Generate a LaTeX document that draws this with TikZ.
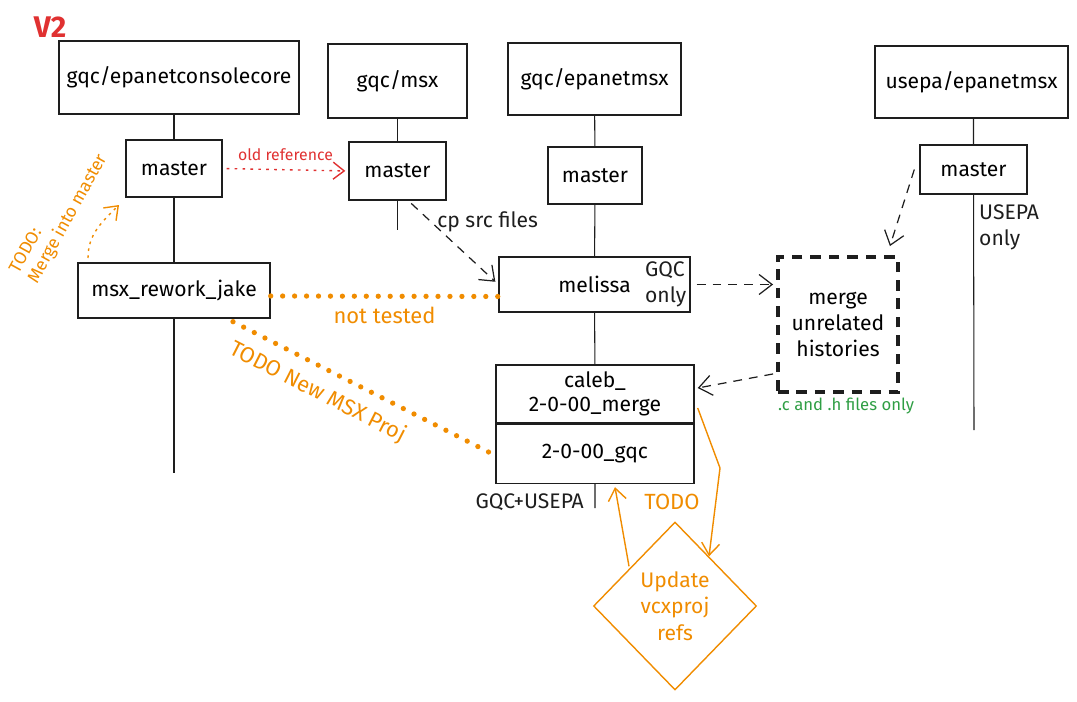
\documentclass[tikz,border=0pt]{standalone}
\usepackage{fontspec}
\setmainfont{Fira Sans}
\usetikzlibrary{arrows.meta,positioning,calc,shapes.geometric}
\definecolor{ink}{RGB}{30,30,30}
\definecolor{todo}{RGB}{240,140,0}
\definecolor{oldref}{RGB}{224,49,49}
\definecolor{grn}{RGB}{47,158,68}
\tikzset{
  repo/.style={draw=ink,line width=0.8pt,font=\fontsize{12}{15}\selectfont,align=center,
    minimum height=14.6mm},
  brch/.style={draw=ink,line width=0.8pt,font=\fontsize{12}{14}\selectfont,align=center,
    inner ysep=1pt,minimum height=11.4mm},
  trunk/.style={draw=ink,line width=0.6pt},
  lbl/.style={font=\fontsize{12}{14.5}\selectfont,align=left,text=ink},
  tlbl/.style={font=\fontsize{12.5}{15}\selectfont,align=left,text=todo},
  dsh/.style={-{Straight Barb[length=2.6mm,width=4mm]},ink,line width=0.7pt,
    dash pattern=on 5pt off 4pt},
  ref/.style={-{Straight Barb[length=2.2mm,width=3.4mm]},oldref,line width=0.8pt,
    dash pattern=on 1.5pt off 3pt},
  dots/.style={todo,line width=3pt,dash pattern=on 0pt off 6.8pt,line cap=round},
  todoarr/.style={-{Straight Barb[length=2.4mm,width=3.6mm]},todo,line width=0.8pt},
}

\begin{document}
\begin{tikzpicture}[x=0.2mm,y=-0.2mm]
\useasboundingbox (0,0) rectangle (1077,701);

\node[font=\fontsize{17}{17}\selectfont\bfseries,text=oldref] (vtwo) at (50,27) {V2};

% ---- repositories ----
\node[repo,minimum width=48mm] (core) at (179,77.5) {gqc/epanetconsolecore};
\node[repo,minimum width=27.8mm,minimum height=14.8mm] (gmsx) at (397.5,81) {gqc/msx};
\node[repo,minimum width=34.6mm,minimum height=14.4mm] (gepa) at (594.5,79) {gqc/epanetmsx};
\node[repo,minimum width=38.6mm,minimum height=14.4mm] (usepa) at (971.5,82) {usepa/epanetmsx};

% ---- branches ----
\node[brch,minimum width=19.2mm] (m1) at (174,168.5) {master};
\node[brch,minimum width=19.4mm,minimum height=11.6mm] (m2) at (397.5,171) {master};
\node[brch,minimum width=18.8mm] (m3) at (595,175.5) {master};
\node[brch,minimum width=21.4mm,minimum height=9.8mm] (m4) at (973.5,169.5) {master};
\node[brch,minimum width=38.4mm,minimum height=11mm] (jake) at (174,290.5) {msx\_rework\_jake};
\node[brch,minimum width=38.2mm,minimum height=11mm] (melissa) at (594.5,284.5) {melissa};
\node[lbl,anchor=east,inner sep=1pt] (gqconly) at ([xshift=-0.5mm]melissa.east) {GQC\\only};
\node[brch,minimum width=39.6mm,minimum height=11.6mm] (caleb) at (595,394) {caleb\_\\2-0-00\_merge};
\node[brch,minimum width=39.6mm,minimum height=11.8mm,below=0pt of caleb] (gqcb) {2-0-00\_gqc};

% ---- merge step ----
\node[draw=ink,line width=2.2pt,dash pattern=on 6pt off 4.5pt,align=center,
  font=\fontsize{12}{14.8}\selectfont,minimum width=24mm,minimum height=27mm]
  (merge) at (838,324.5) {merge\\unrelated\\histories};
\node[font=\fontsize{9.5}{11}\selectfont,text=grn] (chonly) at (846,406) {.c and .h files only};

\node[diamond,draw=todo,line width=0.8pt,text=todo,align=center,inner sep=0pt,
  font=\fontsize{12}{15}\selectfont,minimum width=32.6mm,minimum height=33.6mm]
  (upd) at (675,606) {Update\\vcxproj\\refs};

% ---- trunks ----
\coordinate (c1end) at (174,473);
\coordinate (c2end) at (397.5,230);
\coordinate (c3end) at (595,508);
\coordinate (c4end) at (974,430);
\draw[trunk] (m1 |- core.south) -- (m1) (m1) -- (jake) (jake) -- (c1end);
\draw[trunk] (gmsx) -- (m2) (m2) -- (c2end);
\draw[trunk] (gepa) -- (m3) (m3) -- (melissa) (melissa) -- (caleb) (gqcb) -- (c3end);
\draw[trunk] (m4 |- usepa.south) -- (m4) (m4) -- (c4end);

\node[lbl,anchor=north west] (usepaonly) at (973,199) {USEPA\\only};
\node[lbl,anchor=east] (gqcusepa) at (590,502) {GQC+USEPA};
\node[tlbl] (todonote) at (672,502) {TODO};

% ---- connectors ----
\draw[ref,shorten <=0.8mm,shorten >=0.6mm] (m1.east) -- node[above=0.6mm,
  font=\fontsize{9}{11}\selectfont,text=oldref] {old reference} (m2.west);

\coordinate (mimstart) at (88,258);
\coordinate (mimend) at (119,205);
\draw[todoarr,dash pattern=on 1.5pt off 2.5pt] (mimstart) to[out=90,in=-135] (mimend);
\node[font=\fontsize{10}{12}\selectfont,text=todo,align=left,rotate=61,inner sep=1pt]
  (mimlbl) at (59,214) {TODO:\\Merge into master};

\draw[dsh,shorten <=0.8mm,shorten >=0.8mm] (m2.290) -- node[pos=0.25,anchor=west,lbl] {cp src files} (melissa.west);
\draw[dsh,shorten <=1.2mm,shorten >=0.6mm] (melissa.east) -- (merge.west |- melissa.east);
\draw[dsh] ([xshift=-1mm]m4.west) -- ($(merge.north east)+(-10,-9)$);
\draw[dsh] ($(merge.south west)+(-3,-20)$) -- ($(caleb.east)+(3,-6)$);

\draw[dots] ([yshift=-1.1mm]jake.east) -- node[below=0.4mm,tlbl] {not tested} ([yshift=-2.4mm]melissa.west);
\draw[dots] ($(jake.south)+(59,3)$) -- node[pos=0.37,sloped,below=1mm,tlbl] {TODO New MSX Proj} ([xshift=-0.6mm]gqcb.west);

\draw[todoarr] ($(caleb.east)+(3,14)$) -- (720,468) -- ($(upd.north)+(34,35)$);
\draw[todoarr] ($(upd.north)+(-46,45)$) -- ($(gqcb.south)+(20,3)$);
\end{tikzpicture}
\end{document}
